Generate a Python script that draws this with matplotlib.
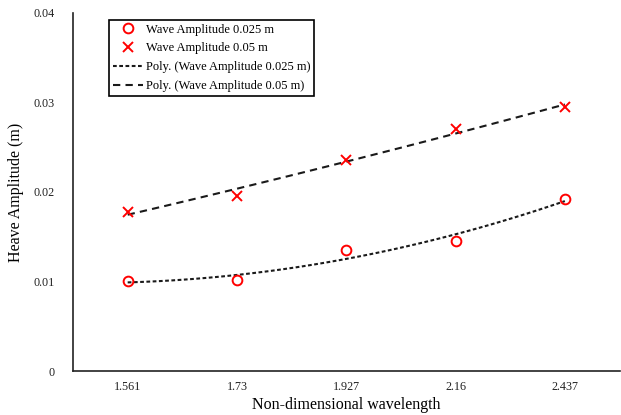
import numpy as np
import matplotlib.pyplot as plt

plt.rcParams['font.family'] = ['Liberation Serif', 'DejaVu Serif']

# data
wavelengths = ["1.561", "1.73", "1.927", "2.16", "2.437"]
heave_a025 = [0.0100, 0.0102, 0.0135, 0.0145, 0.0192]
heave_a05 = [0.0178, 0.0196, 0.0236, 0.0270, 0.0295]

xpos = np.arange(1, len(wavelengths) + 1)

fig = plt.figure(figsize=(6.21, 4.15), dpi=100)
ax = fig.add_axes([0.1176, 0.106, 0.880, 0.863])

# excel style 2nd order trendlines over the category index
xs = np.linspace(1, 5, 100)
fit1 = np.polyval(np.polyfit(xpos, heave_a025, 2), xs)
fit2 = np.polyval(np.polyfit(xpos, heave_a05, 2), xs)

ax.plot(xpos, heave_a025, linestyle='none', marker='o', markersize=7,
        markerfacecolor='none', markeredgecolor='#ff0000', markeredgewidth=1.4,
        label='Wave Amplitude 0.025 m', zorder=3)
ax.plot(xpos, heave_a05, linestyle='none', marker='x', markersize=7,
        color='#ff0000', markeredgewidth=1.4,
        label='Wave Amplitude 0.05 m', zorder=3)
ax.plot(xs, fit1, color='#1a1a1a', linewidth=1.5, linestyle=(0, (1.8, 1.2)),
        label='Poly. (Wave Amplitude 0.025 m)')
ax.plot(xs, fit2, color='#1a1a1a', linewidth=1.5, linestyle=(0, (3.5, 2.5)),
        label='Poly. (Wave Amplitude 0.05 m)')

ax.set_xlim(0.5, 5.5)
ax.set_ylim(0, 0.04)
ax.set_xticks(xpos)
ax.set_xticklabels(wavelengths)
ax.set_yticks([0, 0.01, 0.02, 0.03, 0.04])
ax.set_yticklabels(['0', '0.01', '0.02', '0.03', '0.04'])
ax.tick_params(length=0, labelsize=8.7, pad=7, colors='#222222')
ax.tick_params(axis='y', pad=13)

for s in ['top', 'right']:
    ax.spines[s].set_visible(False)
for s in ['left', 'bottom']:
    ax.spines[s].set_linewidth(1.2)
    ax.spines[s].set_color('#222222')

ax.set_xlabel('Non-dimensional wavelength', fontsize=11.5, labelpad=3)
ax.set_ylabel('Heave Amplitude (m)', fontsize=11.5, labelpad=7)

leg = ax.legend(loc='upper left', bbox_to_anchor=(0.055, 0.998), fontsize=9,
                fancybox=False, edgecolor='black', framealpha=1,
                handlelength=2.4, borderpad=0.3, labelspacing=0.55,
                handletextpad=0.2)
leg.get_frame().set_linewidth(1.2)

fig.savefig('out.png', dpi=100)
